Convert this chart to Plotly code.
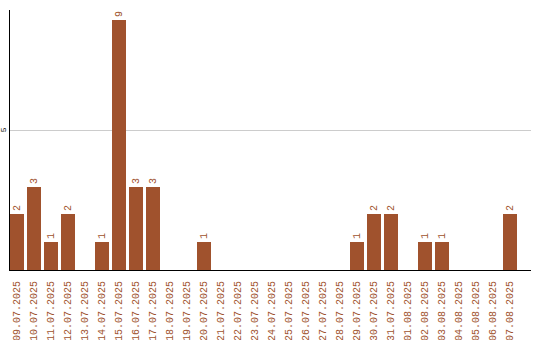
import plotly.graph_objects as go

dates = ["09.07.2025", "10.07.2025", "11.07.2025", "12.07.2025", "13.07.2025",
         "14.07.2025", "15.07.2025", "16.07.2025", "17.07.2025", "18.07.2025",
         "19.07.2025", "20.07.2025", "21.07.2025", "22.07.2025", "23.07.2025",
         "24.07.2025", "25.07.2025", "26.07.2025", "27.07.2025", "28.07.2025",
         "29.07.2025", "30.07.2025", "31.07.2025", "01.08.2025", "02.08.2025",
         "03.08.2025", "04.08.2025", "05.08.2025", "06.08.2025", "07.08.2025"]
counts = [2, 3, 1, 2, 0, 1, 9, 3, 3, 0, 0, 1, 0, 0, 0, 0, 0, 0, 0, 0,
          1, 2, 2, 0, 1, 1, 0, 0, 0, 2]

COLOR = "#A0522D"
FONT = "Liberation Mono"

fig = go.Figure(go.Bar(
    x=list(range(len(dates))),
    y=counts,
    width=0.82,
    marker=dict(color=COLOR, line=dict(width=0)),
    text=[str(v) if v else "" for v in counts],
    textposition="outside",
    textangle=-90,
    cliponaxis=False,
    textfont=dict(family=FONT, size=10, color=COLOR),
))

fig.update_layout(
    width=540, height=340,
    margin=dict(l=10, r=9, t=10, b=70),
    paper_bgcolor="white", plot_bgcolor="white",
    showlegend=False,
    bargap=0,
    xaxis=dict(
        range=[-0.41, 30.24],
        tickmode="array",
        tickvals=list(range(len(dates))),
        ticktext=dates,
        tickangle=-90,
        tickfont=dict(family=FONT, size=10, color=COLOR),
        showgrid=False, zeroline=False,
        showline=True, linecolor="black", linewidth=1,
        ticks="", ticklabelstandoff=6,
        automargin=False,
    ),
    yaxis=dict(
        range=[0, 9.35],
        tickmode="array", tickvals=[5], ticktext=["5"],
        tickangle=-90,
        tickfont=dict(family=FONT, size=8, color="black"),
        showgrid=True, gridcolor="#cccccc", gridwidth=1,
        zeroline=False,
        showline=True, linecolor="black", linewidth=1,
        ticks="", ticklabelstandoff=0,
        automargin=False,
    ),
)

fig.write_html("out.html")
